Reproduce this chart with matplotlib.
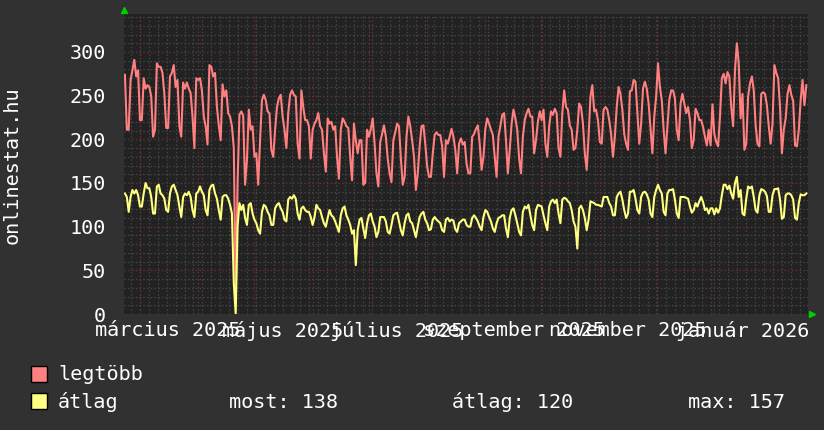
import numpy as np
import pandas as pd
import matplotlib
matplotlib.use('Agg')
import matplotlib.pyplot as plt
import matplotlib.dates as mdates
from matplotlib.patches import Rectangle

# napi adatok 2025-02-21-tol
start = '2025-02-21'

legtobb = [
    274, 211, 211,
    268, 279, 291, 272, 279, 222, 222,
    270, 258, 262, 260, 249, 203, 211,
    287, 283, 283, 276, 252, 213, 213,
    272, 276, 285, 260, 268, 215, 203,
    265, 258, 265, 258, 253, 226, 190,
    270, 268, 270, 256, 226, 215, 194,
    285, 283, 272, 276, 237, 216, 199,
    263, 249, 256, 230, 226, 215, 190,
    20, 150, 228, 232, 227, 148, 176,
    234, 211, 215, 180, 184, 148, 199,
    245, 251, 245, 232, 230, 188, 180,
    211, 237, 247, 251, 226, 211, 190,
    230, 251, 256, 251, 249, 195, 178,
    256, 237, 222, 222, 215, 178, 211,
    218, 222, 230, 215, 211, 184, 163,
    224, 218, 220, 211, 215, 180, 155,
    211, 224, 220, 215, 213, 180, 153,
    218, 199, 184, 199, 199, 148, 150,
    211, 203, 212, 224, 195, 161, 146,
    197, 206, 216, 203, 178, 161, 151,
    199, 208, 218, 215, 178, 148, 157,
    203, 226, 215, 199, 180, 142, 161,
    192, 215, 216, 195, 169, 157, 157,
    184, 205, 208, 205, 205, 192, 157,
    199, 195, 203, 212, 203, 188, 161,
    195, 201, 194, 197, 172, 161, 161,
    203, 206, 212, 216, 195, 165, 180,
    212, 224, 218, 211, 205, 180, 157,
    203, 215, 228, 230, 199, 161, 188,
    218, 234, 224, 211, 178, 161, 203,
    222, 230, 235, 226, 226, 184, 199,
    220, 232, 222, 234, 195, 180, 215,
    232, 228, 235, 230, 190, 180, 230,
    256, 237, 234, 216, 211, 188, 190,
    211, 241, 237, 218, 184, 165, 203,
    249, 262, 232, 234, 222, 197, 195,
    234, 237, 234, 222, 206, 180, 203,
    237, 260, 252, 234, 206, 195, 188,
    255, 256, 268, 266, 230, 195, 218,
    258, 266, 258, 241, 213, 184, 226,
    249, 287, 260, 245, 211, 184, 215,
    245, 256, 256, 247, 211, 199, 241,
    252, 241, 230, 237, 222, 190, 199,
    235, 230, 222, 222, 214, 203, 193,
    211, 193, 240, 206, 197, 192, 226,
    270, 275, 264, 277, 272, 237, 215,
    279, 310, 287, 224, 252, 188, 195,
    249, 264, 272, 256, 216, 195, 192,
    252, 254, 252, 239, 215, 195, 218,
    285, 276, 270, 237, 184, 211, 224,
    252, 262, 251, 244, 193, 192, 211,
    245, 268, 239, 262,
]

atlag = [
    138, 134, 117,
    134, 142, 138, 142, 136, 123, 123,
    138, 150, 144, 144, 134, 115, 115,
    146, 148, 138, 136, 132, 119, 117,
    138, 146, 148, 142, 136, 123, 111,
    134, 138, 136, 140, 134, 119, 111,
    138, 140, 146, 140, 136, 119, 113,
    142, 147, 148, 138, 132, 119, 108,
    134, 136, 136, 132, 125, 115, 35,
    0, 100, 127, 119, 125, 110, 102,
    125, 127, 115, 108, 104, 96, 92,
    117, 125, 123, 117, 113, 102, 102,
    121, 125, 127, 121, 117, 108, 106,
    131, 134, 132, 136, 132, 115, 108,
    121, 123, 119, 117, 117, 111, 102,
    111, 125, 121, 119, 111, 104, 100,
    110, 119, 113, 111, 106, 100, 94,
    113, 121, 123, 113, 108, 102, 92,
    96, 56, 96, 108, 110, 98, 87,
    104, 113, 115, 106, 100, 88, 94,
    111, 111, 111, 106, 94, 92, 102,
    113, 115, 116, 106, 96, 90, 104,
    113, 115, 106, 104, 96, 88, 100,
    111, 115, 117, 108, 104, 96, 97,
    108, 111, 108, 106, 104, 96, 94,
    108, 110, 106, 108, 107, 97, 94,
    104, 106, 108, 108, 102, 100, 100,
    110, 113, 110, 106, 100, 96, 111,
    119, 117, 111, 106, 98, 94, 104,
    110, 111, 113, 113, 98, 88, 110,
    119, 121, 113, 104, 94, 90, 117,
    123, 121, 125, 113, 102, 96, 119,
    125, 124, 123, 113, 104, 96, 123,
    129, 131, 127, 131, 115, 104, 131,
    133, 132, 129, 127, 119, 106, 100,
    75, 121, 124, 119, 110, 96, 108,
    129, 128, 127, 125, 125, 124, 123,
    134, 134, 134, 127, 123, 113, 113,
    134, 138, 140, 131, 119, 110, 115,
    140, 140, 142, 132, 119, 115, 134,
    139, 140, 137, 131, 115, 111, 134,
    142, 148, 142, 138, 117, 113, 138,
    142, 142, 143, 131, 115, 110, 134,
    134, 134, 133, 132, 123, 116, 119,
    127, 123, 129, 134, 128, 119, 121,
    115, 121, 121, 114, 121, 116, 121,
    136, 148, 148, 143, 147, 138, 132,
    150, 157, 134, 142, 115, 113, 132,
    146, 144, 146, 134, 119, 116, 136,
    143, 142, 140, 135, 117, 117, 136,
    143, 143, 144, 131, 109, 111, 136,
    138, 138, 136, 131, 110, 108, 127,
    137, 136, 136, 138,
]

label_months = ['2025-03-16', '2025-05-16', '2025-07-16', '2025-09-16', '2025-11-16', '2026-01-16']
month_labels = ['március 2025', 'május 2025', 'július 2025', 'szeptember 2025', 'november 2025', 'január 2026']

most_val = 138
atlag_val = 120
max_val = 157

W, H = 824, 430
BG = '#313131'
PLOT_BG = '#222222'
RED = '#ff8080'
YELLOW = '#ffff80'
GRID_MINOR = '#464646'
GRID_MAJOR = '#643236'
FONT = 'DejaVu Sans Mono'
FS = 14.5

plt.rcParams['font.family'] = FONT

fig = plt.figure(figsize=(W / 100, H / 100), dpi=100, facecolor=BG)
ax = fig.add_axes([124 / W, 1 - 314 / H, (808 - 124) / W, 300 / H])
ax.set_facecolor(PLOT_BG)

days = pd.date_range(start, periods=len(legtobb), freq='D')
t0 = mdates.date2num(pd.Timestamp(start))
ax.set_xlim(t0 - 0.5, t0 + 363.9)
ax.set_ylim(0, 343.5)

# racsvonalak
dots = (0, (1.2, 1.8))
for v in range(10, 341, 10):
    c = GRID_MAJOR if v % 50 == 0 else GRID_MINOR
    ax.axhline(v, color=c, lw=0.9, ls=dots, zorder=1)

minor = np.arange(t0 + 8 - 4.75 * 2, t0 + 364, 4.75)
for m in minor:
    ax.axvline(m, color=GRID_MINOR, lw=0.9, ls=dots, zorder=1)
for m in pd.date_range('2025-03-01', '2026-02-01', freq='MS'):
    ax.axvline(mdates.date2num(m), color=GRID_MAJOR, lw=0.9, ls=dots, zorder=1)

ax.plot(days, legtobb, color=RED, lw=1.5, zorder=3)
ax.plot(days, atlag, color=YELLOW, lw=1.5, zorder=4)

ax.set_yticks(range(0, 301, 50))
ax.set_xticks([mdates.date2num(pd.Timestamp(d)) for d in label_months])
ax.set_xticklabels(month_labels)
ax.tick_params(axis='both', length=0, colors='white', labelsize=FS)
ax.tick_params(axis='y', pad=13)
ax.tick_params(axis='x', pad=5)
for s in ax.spines.values():
    s.set_visible(False)

# nyilak
ax.plot([0], [1.015], marker='^', ms=5, color='#00d000', transform=ax.transAxes, clip_on=False)
ax.plot([1.006], [0], marker='>', ms=5, color='#00d000', transform=ax.transAxes, clip_on=False)

fig.text(12 / W, 1 - 165 / H, 'onlinestat.hu', rotation=90, ha='center', va='center',
         color='white', fontsize=FS)

# jelmagyarazat
fig.add_artist(Rectangle((31.5 / W, 1 - 381.5 / H), 15.5 / W, 16 / H, transform=fig.transFigure,
                         facecolor=RED, edgecolor='black', lw=1))
fig.add_artist(Rectangle((31.5 / W, 1 - 409 / H), 15.5 / W, 16 / H, transform=fig.transFigure,
                         facecolor=YELLOW, edgecolor='black', lw=1))
fig.text(58 / W, 1 - 380 / H, 'legtöbb', color='white', fontsize=FS, va='baseline')
fig.text(58 / W, 1 - 408 / H, 'átlag', color='white', fontsize=FS, va='baseline')
fig.text(229 / W, 1 - 408 / H, 'most: %d' % most_val, color='white', fontsize=FS, va='baseline')
fig.text(452 / W, 1 - 408 / H, 'átlag: %d' % atlag_val, color='white', fontsize=FS, va='baseline')
fig.text(688 / W, 1 - 408 / H, 'max: %d' % max_val, color='white', fontsize=FS, va='baseline')

fig.savefig('out.png', dpi=100, facecolor=BG)
